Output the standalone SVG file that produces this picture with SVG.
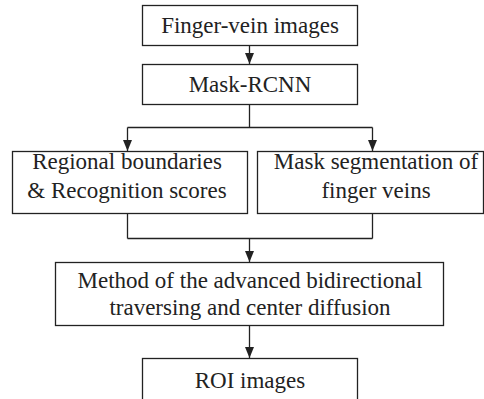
<svg xmlns="http://www.w3.org/2000/svg" width="484" height="399" viewBox="0 0 484 399">
<defs>
<style>
.box{fill:#fff;stroke:#222;stroke-width:1.3}
.t{font-family:"Liberation Serif","Times New Roman",serif;font-size:23px;fill:#222;text-anchor:middle}
.c{fill:none;stroke:#222;stroke-width:1.3}
</style>
<marker id="ah" markerWidth="10" markerHeight="11" refX="5" refY="11" orient="auto-start-reverse" markerUnits="userSpaceOnUse" viewBox="0 0 10 11">
<path d="M0,0 L10,0 L5,11 Z" fill="#222" transform="rotate(0)"/>
</marker>
</defs>
<rect width="484" height="399" fill="#fff"/>
<g id="connectors">
<path class="c" d="M249.5,45 V64"/>
<path d="M245,53 L254,53 L249.5,64 Z" fill="#222"/>
<path class="c" d="M249.5,104 V127.5 M127.5,127.5 H372.5 M127.5,127.5 V151 M372.5,127.5 V151"/>
<path d="M123,140 L132,140 L127.5,151 Z" fill="#222"/>
<path d="M368,140 L377,140 L372.5,151 Z" fill="#222"/>
<path class="c" d="M127.5,213 V238.5 M372.5,213 V238.5 M127.5,238.5 H372.5 M249.5,238.5 V262"/>
<path d="M245,251 L254,251 L249.5,262 Z" fill="#222"/>
<path class="c" d="M249.5,325 V358"/>
<path d="M245,347 L254,347 L249.5,358 Z" fill="#222"/>
</g>
<g id="n1"><rect class="box" x="142.5" y="5.5" width="215" height="40"/><text class="t" x="250" y="33">Finger-vein images</text></g>
<g id="n2"><rect class="box" x="142.5" y="64.5" width="215" height="40"/><text class="t" x="250" y="92">Mask-RCNN</text></g>
<g id="n3"><rect class="box" x="12.5" y="151.5" width="235" height="62"/><text class="t" x="127" y="169">Regional boundaries</text><text class="t" x="127" y="198">&amp; Recognition scores</text></g>
<g id="n4"><rect class="box" x="257.5" y="151.5" width="226" height="62"/><text class="t" x="376" y="169">Mask segmentation of</text><text class="t" x="376" y="198">finger veins</text></g>
<g id="n5"><rect class="box" x="55.5" y="262.5" width="388" height="63"/><text class="t" x="250" y="288">Method of the advanced bidirectional</text><text class="t" x="250" y="315">traversing and center diffusion</text></g>
<g id="n6"><rect class="box" x="142.5" y="358.5" width="215" height="42"/><text class="t" x="250" y="388">ROI images</text></g>
</svg>
